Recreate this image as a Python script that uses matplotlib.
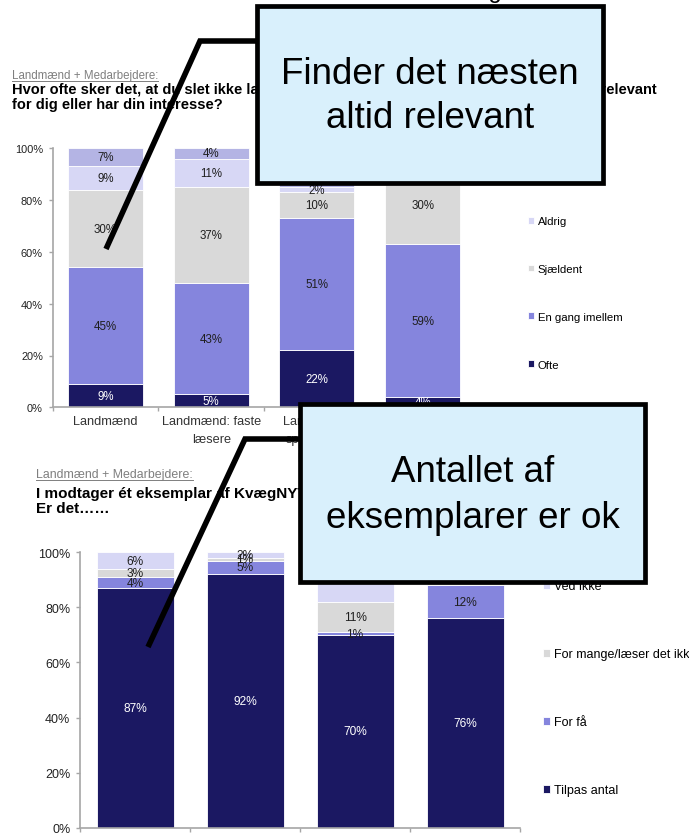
import matplotlib
matplotlib.use("Agg")
import matplotlib.pyplot as plt
from matplotlib.patches import Rectangle
from matplotlib.lines import Line2D
import numpy as np

plt.rcParams['font.family'] = ['Liberation Sans', 'DejaVu Sans']

# ---------------- data ----------------
top_categories = ["Landmænd", "Landmænd: faste\nlæsere", "Landmænd:\nsporadiske\nlæsere", "Medarbejdere"]
top_series = ["Ofte", "En gang imellem", "Sjældent", "Aldrig", "Ved ikke"]
top_ofte = [9, 5, 22, 4]
top_en_gang = [45, 43, 51, 59]
top_sjaeldent = [30, 37, 10, 30]
top_aldrig = [9, 11, 2, 4]
top_ved_ikke = [7, 4, 15, 3]

bot_categories = ["Landmænd", "Landmænd: faste\nlæsere", "Landmænd:\nsporadiske\nlæsere", "Medarbejdere"]
bot_series = ["Tilpas antal", "For få", "For mange/læser det ikke", "Ved ikke"]
bot_tilpas = [87, 92, 70, 76]
bot_for_faa = [4, 5, 1, 12]
bot_for_mange = [3, 1, 11, 5]
bot_ved_ikke = [6, 2, 18, 7]

yticks = [0, 20, 40, 60, 80, 100]
ytick_labels = ["0%", "20%", "40%", "60%", "80%", "100%"]

top_sub = "Landmænd + Medarbejdere:"
top_q1 = "Hvor ofte sker det, at du slet ikke læser en artikel i KvægNYT, fordi indholdet ikke er relevant"
top_q2 = "for dig eller har din interesse?"
bot_sub = "Landmænd + Medarbejdere:"
bot_q1 = "I modtager ét eksemplar af KvægNYT på bedriften."
bot_q2 = "Er det……"
callout1 = ["Finder det næsten", "altid relevant"]
callout2 = ["Antallet af", "eksemplarer er ok"]

# ---------------- style ----------------
NAVY = "#1B1862"
MID = "#8585DD"
GRAY = "#D9D9D9"
LAV = "#D7D7F5"
LAV2 = "#B4B4E4"
AXC = "#A6A6A6"
BOXC = "#D9F0FC"

W, H = 689, 837
fig = plt.figure(figsize=(W / 100, H / 100), dpi=100)


def px_axes(x0, y0, x1, y1):
    return fig.add_axes([x0 / W, 1 - y1 / H, (x1 - x0) / W, (y1 - y0) / H])


def stacked(ax, cats, names, series, colors, lcolors, width, fs, tick_fs, xfs, xpad):
    x = np.arange(len(cats))
    bottom = np.zeros(len(cats))
    handles = []
    for name, vals, c, lc in zip(names, series, colors, lcolors):
        vals = np.array(vals, float)
        bars = ax.bar(x, vals, width, bottom=bottom, color=c, edgecolor="white",
                      linewidth=0.6, label=name)
        ax.bar_label(bars, labels=[f"{v:.0f}%" for v in vals], label_type="center",
                     color=lc, fontsize=fs)
        bottom += vals
        handles.append(bars)
    ax.set_xlim(-0.5, len(cats) - 0.5)
    ax.set_ylim(0, 100)
    ax.set_yticks(yticks)
    ax.set_yticklabels(ytick_labels, fontsize=tick_fs, color="#222222")
    ax.set_xticks(x)
    ax.set_xticklabels(cats, fontsize=xfs, color="#333333", linespacing=1.7)
    ax.set_xticks(np.arange(-0.5, len(cats), 1), minor=True)
    ax.tick_params(axis="x", which="major", length=0, pad=xpad)
    ax.tick_params(axis="x", which="minor", length=3, color=AXC, width=1, direction="out")
    ax.tick_params(axis="y", length=3, color=AXC, width=1, direction="out", pad=4)
    for s in ("top", "right"):
        ax.spines[s].set_visible(False)
    for s in ("left", "bottom"):
        ax.spines[s].set_color(AXC)
        ax.spines[s].set_linewidth(1.2)
    return handles


# top chart
ax1 = px_axes(52.7, 149.3, 475.5, 408.3)
h1 = stacked(ax1, top_categories, top_series,
             [top_ofte, top_en_gang, top_sjaeldent, top_aldrig, top_ved_ikke],
             [NAVY, MID, GRAY, LAV, LAV2],
             ["white", "#1F1F1F", "#1F1F1F", "#1F1F1F", "#1F1F1F"],
             0.71, 8.3, 7.9, 9.2, 5.5)
ax1.legend(h1[::-1], top_series[::-1], loc="center left",
           bbox_to_anchor=(528 / W, 1 - 270 / H), bbox_transform=fig.transFigure,
           frameon=False, fontsize=8.2, handlelength=0.55, handleheight=0.55,
           handletextpad=0.3, labelspacing=3.32, borderpad=0, borderaxespad=0)

# bottom chart
ax2 = px_axes(80, 553.3, 520, 828.7)
h2 = stacked(ax2, bot_categories, bot_series,
             [bot_tilpas, bot_for_faa, bot_for_mange, bot_ved_ikke],
             [NAVY, MID, GRAY, LAV],
             ["white", "#1F1F1F", "#1F1F1F", "#1F1F1F"],
             0.70, 8.6, 9, 9.2, 14)
ax2.legend(h2[::-1], bot_series[::-1], loc="center left",
           bbox_to_anchor=(543 / W, 1 - 689.5 / H), bbox_transform=fig.transFigure,
           frameon=False, fontsize=9, handlelength=0.55, handleheight=0.55,
           handletextpad=0.3, labelspacing=4.48, borderpad=0, borderaxespad=0)

# ---------------- overlay (texts, callouts) ----------------
ov = fig.add_axes([0, 0, 1, 1])
ov.set_xlim(0, W)
ov.set_ylim(H, 0)
ov.axis("off")

ov.text(502, -2.5, "Læsning", ha="right", va="baseline", fontsize=17, color="black")

t_sub1 = ov.text(12, 76, top_sub, fontsize=8.3, color="#7F7F7F", va="center", ha="left")
ov.text(12, 90, top_q1, fontsize=10.5, fontweight="bold", va="center", ha="left")
ov.text(12, 105, top_q2, fontsize=10.5, fontweight="bold", va="center", ha="left")

t_sub2 = ov.text(36, 475, bot_sub, fontsize=8.9, color="#7F7F7F", va="center", ha="left")
ov.text(36, 493, bot_q1, fontsize=11, fontweight="bold", va="center", ha="left")
ov.text(36, 509, bot_q2, fontsize=11, fontweight="bold", va="center", ha="left")

fig.canvas.draw()
inv = ov.transData.inverted()
for t, yc in ((t_sub1, 81.5), (t_sub2, 481)):
    bb = t.get_window_extent()
    (xa, _), (xb, _) = inv.transform([[bb.x0, bb.y0], [bb.x1, bb.y0]])
    ov.add_line(Line2D([xa, xb], [yc, yc], color="#7F7F7F", lw=0.7))

# callout lines
ov.add_line(Line2D([257, 200, 106], [42, 42, 250], color="black", lw=4.0,
                   solid_joinstyle="miter", solid_capstyle="butt", zorder=4))
ov.add_line(Line2D([300, 245, 148], [440, 440, 648], color="black", lw=4.0,
                   solid_joinstyle="miter", solid_capstyle="butt", zorder=4))

# callout boxes
ov.add_patch(Rectangle((257, 7), 346, 177, facecolor=BOXC, edgecolor="black", lw=3.4, zorder=5))
ov.add_patch(Rectangle((300, 405), 345, 178, facecolor=BOXC, edgecolor="black", lw=3.4, zorder=5))
for i, line in enumerate(callout1):
    ov.text(430, 74 + 44 * i, line, ha="center", va="center", fontsize=26.5, zorder=6)
for i, line in enumerate(callout2):
    ov.text(472.5, 472 + 46 * i, line, ha="center", va="center", fontsize=26.5, zorder=6)

fig.savefig("out.png", dpi=100)
